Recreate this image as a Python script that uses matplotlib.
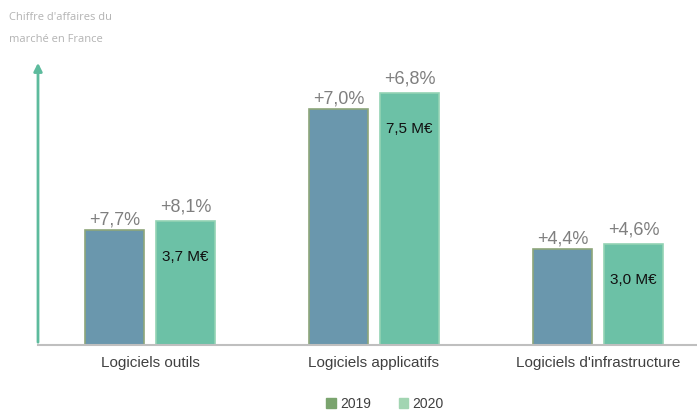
import matplotlib.pyplot as plt
from matplotlib.patches import Patch

plt.rcParams['font.family'] = ['Liberation Sans Narrow', 'Liberation Sans', 'DejaVu Sans']

categories = ['Logiciels outils', 'Logiciels applicatifs', "Logiciels d'infrastructure"]
ca_2019 = [3.42, 7.03, 2.87]
ca_2020 = [3.7, 7.5, 3.0]
growth_2019 = ['+7,7%', '+7,0%', '+4,4%']
growth_2020 = ['+8,1%', '+6,8%', '+4,6%']
value_labels = ['3,7 M€', '7,5 M€', '3,0 M€']

fig = plt.figure(figsize=(6.97, 4.12), dpi=100)
ax = fig.add_axes([38/697, 1-345/412, 1-38/697, (345-60)/412])

x = list(range(len(categories)))
w = 0.26
off = 0.158
x19 = [i - off for i in x]
x20 = [i + off for i in x]

b19 = ax.bar(x19, ca_2019, width=w, color='#6a97ad', edgecolor='#8da67a', linewidth=1.2)
b20 = ax.bar(x20, ca_2020, width=w, color='#6cc1a6', edgecolor='#93d3b4', linewidth=1.2)

for xi, v, t in zip(x19, ca_2019, growth_2019):
    ax.annotate(t, (xi, v), xytext=(0, 1), textcoords='offset points',
                ha='center', va='bottom', fontsize=13, color='#7f7f7f')
for xi, v, t in zip(x20, ca_2020, growth_2020):
    ax.annotate(t, (xi, v), xytext=(0, 4), textcoords='offset points',
                ha='center', va='bottom', fontsize=13, color='#7f7f7f')
for xi, v, t in zip(x20, ca_2020, value_labels):
    ax.annotate(t, (xi, v), xytext=(0, -26), textcoords='offset points',
                ha='center', va='center', fontsize=11, color='#111111')

ax.set_xlim(-0.5, 2.442)
ax.set_ylim(0, 8.48)
ax.set_xticks(x)
ax.set_xticklabels(categories, fontsize=11, color='#404040')
ax.tick_params(axis='x', length=0, pad=8)
ax.set_yticks([])
for s in ['top', 'right', 'left']:
    ax.spines[s].set_visible(False)
ax.spines['bottom'].set_color('#bfbfbf')
ax.spines['bottom'].set_linewidth(1.5)

# fleche verticale
ax.annotate('', xy=(0, 1.0), xytext=(0, 0), xycoords='axes fraction',
            arrowprops=dict(arrowstyle='-|>', color='#5dbb9d', lw=2, mutation_scale=12),
            annotation_clip=False)

fig.text(9/697, 1-18/412, "Chiffre d'affaires du", fontsize=8, color='#b3b3b3',
         va='center', family=['Open Sans', 'DejaVu Sans'])
fig.text(9/697, 1-40/412, 'marché en France', fontsize=8, color='#b3b3b3',
         va='center', family=['Open Sans', 'DejaVu Sans'])

handles = [Patch(color='#7aa46e', label='2019'), Patch(color='#a2d5b2', label='2020')]
fig.legend(handles=handles, loc='center', bbox_to_anchor=(385/697, 1-404/412), ncol=2,
           frameon=False, fontsize=10, handlelength=0.7, handleheight=0.7,
           handletextpad=0.3, columnspacing=2.0, labelcolor='#404040')

fig.savefig('out.png', dpi=100)
